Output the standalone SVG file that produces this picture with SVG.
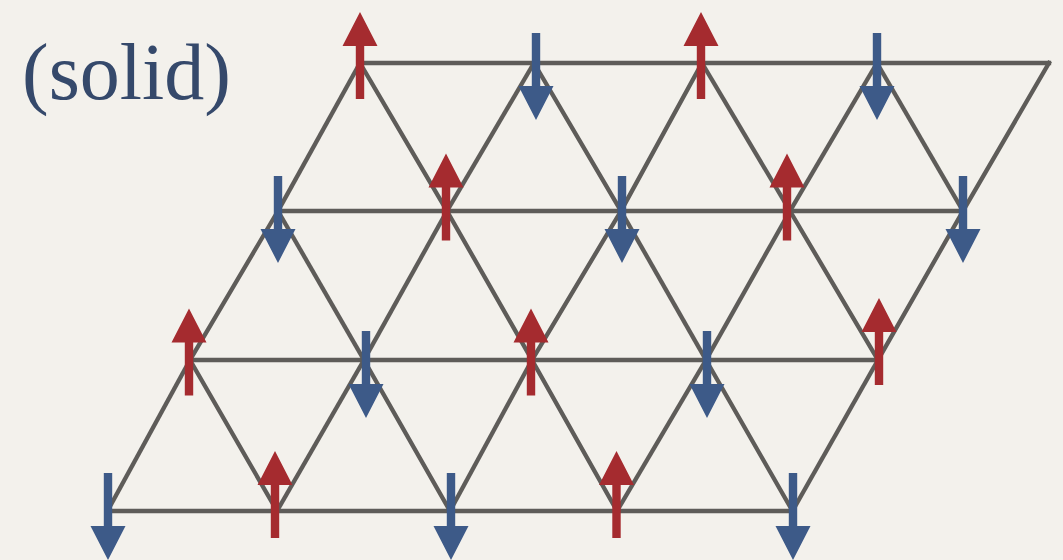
<svg xmlns="http://www.w3.org/2000/svg" xmlns:xlink="http://www.w3.org/1999/xlink" width="1063" height="560" viewBox="0 0 1063 560">
  <defs>
    <style>
      .edge { stroke: #5e5c59; stroke-width: 4.3; stroke-linecap: square; fill: none; }
      .up { fill: #a52b2f; }
      .down { fill: #3d5a88; }
      .label { font-family: "Liberation Serif", "DejaVu Serif", serif; font-size: 80px; fill: #35496b; }
    </style>
    <path id="upArrow" d="M0,0 L17.5,34 L4.2,34 L4.2,87 L-4.2,87 L-4.2,34 L-17.5,34 Z"/>
    <path id="downArrow" d="M-4.2,0 L4.2,0 L4.2,53 L17.5,53 L0,87 L-17.5,53 L-4.2,53 Z"/>
  </defs>
  <rect width="1063" height="560" fill="#f3f1ec"/>

  <text id="title" class="label" x="22" y="99">(solid)</text>

  <g id="connectors">
    <!-- horizontal rows -->
    <line class="edge" x1="360" y1="63" x2="1049" y2="63"/>
    <line class="edge" x1="278" y1="211" x2="963" y2="211"/>
    <line class="edge" x1="190" y1="360" x2="878" y2="360"/>
    <line class="edge" x1="107.5" y1="511" x2="792.5" y2="511"/>
    <!-- row1 to row2 -->
    <line class="edge" x1="360" y1="63" x2="278" y2="211"/>
    <line class="edge" x1="360" y1="63" x2="447" y2="211"/>
    <line class="edge" x1="534" y1="63" x2="447" y2="211"/>
    <line class="edge" x1="534" y1="63" x2="621" y2="211"/>
    <line class="edge" x1="702" y1="63" x2="621" y2="211"/>
    <line class="edge" x1="702" y1="63" x2="790" y2="211"/>
    <line class="edge" x1="877" y1="63" x2="790" y2="211"/>
    <line class="edge" x1="877" y1="63" x2="963" y2="211"/>
    <line class="edge" x1="1049" y1="63" x2="963" y2="211"/>
    <!-- row2 to row3 -->
    <line class="edge" x1="278" y1="211" x2="190" y2="360"/>
    <line class="edge" x1="278" y1="211" x2="364" y2="360"/>
    <line class="edge" x1="447" y1="211" x2="364" y2="360"/>
    <line class="edge" x1="447" y1="211" x2="532" y2="360"/>
    <line class="edge" x1="621" y1="211" x2="532" y2="360"/>
    <line class="edge" x1="621" y1="211" x2="706" y2="360"/>
    <line class="edge" x1="790" y1="211" x2="706" y2="360"/>
    <line class="edge" x1="790" y1="211" x2="878" y2="360"/>
    <line class="edge" x1="963" y1="211" x2="878" y2="360"/>
    <!-- row3 to row4 -->
    <line class="edge" x1="190" y1="360" x2="107.5" y2="511"/>
    <line class="edge" x1="190" y1="360" x2="277" y2="511"/>
    <line class="edge" x1="364" y1="360" x2="277" y2="511"/>
    <line class="edge" x1="364" y1="360" x2="450" y2="511"/>
    <line class="edge" x1="532" y1="360" x2="450" y2="511"/>
    <line class="edge" x1="532" y1="360" x2="617" y2="511"/>
    <line class="edge" x1="706" y1="360" x2="617" y2="511"/>
    <line class="edge" x1="706" y1="360" x2="792.5" y2="511"/>
    <line class="edge" x1="878" y1="360" x2="792.5" y2="511"/>
  </g>

  <!-- row 1 spins -->
  <g id="spin-r1-1"><use xlink:href="#upArrow" class="up" x="360" y="12"/></g>
  <g id="spin-r1-2"><use xlink:href="#downArrow" class="down" x="536" y="33"/></g>
  <g id="spin-r1-3"><use xlink:href="#upArrow" class="up" x="701" y="12"/></g>
  <g id="spin-r1-4"><use xlink:href="#downArrow" class="down" x="877" y="33"/></g>
  <!-- row 2 spins -->
  <g id="spin-r2-1"><use xlink:href="#downArrow" class="down" x="278" y="176"/></g>
  <g id="spin-r2-2"><use xlink:href="#upArrow" class="up" x="446" y="153.5"/></g>
  <g id="spin-r2-3"><use xlink:href="#downArrow" class="down" x="622" y="176"/></g>
  <g id="spin-r2-4"><use xlink:href="#upArrow" class="up" x="787" y="153.5"/></g>
  <g id="spin-r2-5"><use xlink:href="#downArrow" class="down" x="963" y="176"/></g>
  <!-- row 3 spins -->
  <g id="spin-r3-1"><use xlink:href="#upArrow" class="up" x="189" y="308.5"/></g>
  <g id="spin-r3-2"><use xlink:href="#downArrow" class="down" x="366" y="331"/></g>
  <g id="spin-r3-3"><use xlink:href="#upArrow" class="up" x="531" y="308.5"/></g>
  <g id="spin-r3-4"><use xlink:href="#downArrow" class="down" x="707" y="331"/></g>
  <g id="spin-r3-5"><use xlink:href="#upArrow" class="up" x="879" y="298"/></g>
  <!-- row 4 spins -->
  <g id="spin-r4-1"><use xlink:href="#downArrow" class="down" x="108" y="473"/></g>
  <g id="spin-r4-2"><use xlink:href="#upArrow" class="up" x="275" y="451"/></g>
  <g id="spin-r4-3"><use xlink:href="#downArrow" class="down" x="451" y="473"/></g>
  <g id="spin-r4-4"><use xlink:href="#upArrow" class="up" x="616.5" y="451"/></g>
  <g id="spin-r4-5"><use xlink:href="#downArrow" class="down" x="793" y="473"/></g>
</svg>
